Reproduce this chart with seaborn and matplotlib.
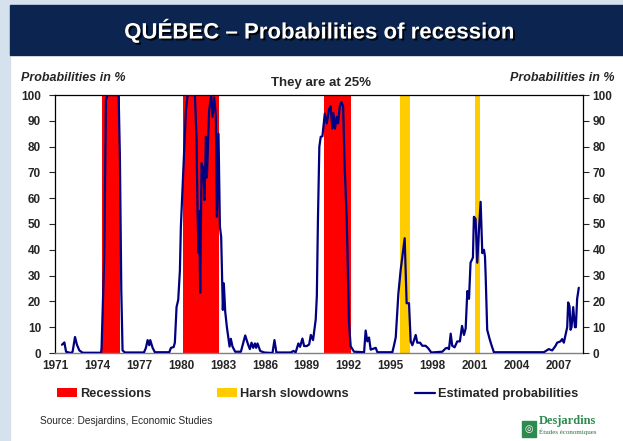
import matplotlib
matplotlib.use("Agg")
import matplotlib.pyplot as plt
import matplotlib.patheffects as pe
from matplotlib.patches import Rectangle, Patch
from matplotlib.lines import Line2D
import seaborn as sns

# estimated probabilities of recession (%)
years = [1971.50, 1971.67, 1971.79, 1972.14, 1972.26, 1972.43, 1972.57, 1972.74, 1972.98,
         1974.29, 1974.33, 1974.52, 1974.64, 1974.76, 1975.55, 1975.64, 1975.74, 1975.83, 1976.00,
         1977.36, 1977.50, 1977.62, 1977.74, 1977.81, 1977.98, 1978.14,
         1979.17, 1979.29, 1979.48, 1979.57, 1979.69, 1979.81, 1979.93, 1980.00, 1980.17, 1980.36,
         1980.48, 1981.00, 1981.12, 1981.19, 1981.26, 1981.31, 1981.38, 1981.48, 1981.60, 1981.69,
         1981.79, 1981.86, 1982.02, 1982.17, 1982.26, 1982.38, 1982.50, 1982.57, 1982.69, 1982.79,
         1982.88, 1983.00, 1983.07, 1983.17, 1983.29, 1983.40, 1983.48, 1983.57, 1983.69, 1983.88,
         1984.29, 1984.60, 1984.81, 1984.93, 1985.05, 1985.17, 1985.29, 1985.38, 1985.48, 1985.67,
         1985.95, 1986.55, 1986.69, 1986.83, 1987.86, 1988.05, 1988.21, 1988.40, 1988.52, 1988.69,
         1988.81, 1989.00, 1989.17, 1989.29, 1989.45, 1989.64, 1989.72, 1989.80, 1989.90, 1990.00,
         1990.12, 1990.29, 1990.43, 1990.60, 1990.71, 1990.83, 1990.90, 1991.02, 1991.14, 1991.24,
         1991.36, 1991.48, 1991.60, 1991.71, 1991.86, 1992.02, 1992.14, 1992.38,
         1993.10, 1993.21, 1993.33, 1993.45, 1993.57, 1993.93, 1994.05,
         1995.12, 1995.24, 1995.36, 1995.55, 1995.71, 1996.00, 1996.14, 1996.31, 1996.43, 1996.55,
         1996.79, 1996.90, 1997.10, 1997.26, 1997.50, 1997.69, 1997.90,
         1998.69, 1998.93, 1999.05, 1999.17, 1999.29, 1999.40, 1999.57, 1999.76, 1999.95,
         2000.10, 2000.24, 2000.36, 2000.48, 2000.60, 2000.71, 2000.88, 2000.95, 2001.07, 2001.19,
         2001.31, 2001.43, 2001.55, 2001.67, 2001.74, 2001.79, 2001.90, 2002.07, 2002.21, 2002.38,
         2005.95, 2006.30, 2006.55, 2006.79, 2006.90, 2007.14, 2007.26, 2007.38, 2007.50, 2007.62,
         2007.69, 2007.79, 2007.86, 2007.93, 2008.05, 2008.17, 2008.24, 2008.33, 2008.45]
probs = [3.2, 4.1, 0.5, 0.0, 0.5, 6.2, 3.2, 1.0, 0.1,
         0.1, 2.0, 37, 98, 100, 100, 76, 24, 1.0, 0.2,
         0.2, 2.0, 5.0, 3.0, 5.0, 2.0, 0.3,
         0.3, 2.0, 2.3, 4.0, 17.8, 20.6, 32, 49, 70, 94,
         100, 100, 83, 55, 38.8, 55, 23.3, 73.6, 71.5, 59.3,
         83.8, 68, 94, 100, 91.5, 99, 92, 52.8, 85, 49,
         45, 16.7, 27, 16, 10, 5.5, 2.5, 5.5, 2.5, 0.5,
         0.5, 6.8, 3.2, 1.5, 4.0, 2.0, 3.7, 2.0, 3.7, 0.8,
         0.2, 0.0, 5.0, 0.2, 0.2, 0.8, 0.3, 3.7, 2.4, 5.6,
         2.7, 2.7, 3.3, 7.0, 5.0, 13, 22, 52, 80, 83.8,
         84, 92.8, 89, 94.7, 95.6, 87, 93, 87, 91.5, 89,
         95.6, 97.3, 95.6, 72, 51.5, 11.6, 2.6, 0.5,
         0.3, 8.7, 4.5, 6.0, 1.3, 2.0, 0.3,
         0.3, 3.0, 6.0, 23, 32, 44.5, 19.3, 19.3, 4.5, 3.0,
         7.0, 4.0, 4.0, 2.8, 2.8, 1.8, 0.2,
         0.5, 1.8, 2.0, 1.5, 7.5, 2.8, 2.2, 4.5, 4.5,
         10.5, 7.0, 9.5, 24, 21, 35, 37, 52.8, 52, 35,
         47.6, 58.6, 38.7, 40, 37.5, 30, 9, 5.5, 3, 0.3,
         0.3, 1.5, 1.0, 2.8, 4.0, 4.5, 5.4, 4.0, 7.0, 10,
         19.6, 18, 9, 10, 17.8, 10, 10, 21, 25.3]

# shaded periods
recession_start = [1974.33, 1980.12, 1990.20]
recession_end = [1975.64, 1982.69, 1992.19]
slowdown_start = [1995.64, 2001.00]
slowdown_end = [1996.36, 2001.36]

year_ticks = list(range(1971, 2008, 3))
prob_ticks = list(range(0, 101, 10))

sns.set_style("white")
plt.rcParams['font.family'] = ['Liberation Sans', 'DejaVu Sans']

W, H = 623, 441
fig = plt.figure(figsize=(W / 100, H / 100), dpi=100)


def fx(px):
    return px / W


def fy(py):
    return 1 - py / H


# slide frame and title bar
frame_col = '#d5e1ed'
fig.patches.append(Rectangle((0, 0), fx(10), 1, transform=fig.transFigure, color=frame_col, zorder=0))
fig.patches.append(Rectangle((0, fy(5)), 1, 5 / H, transform=fig.transFigure, color=frame_col, zorder=0))
fig.patches.append(Rectangle((fx(10), fy(55)), 1, 50 / H, transform=fig.transFigure, color='#0b2550', zorder=0))
fig.text(fx(319), fy(31), "QUÉBEC – Probabilities of recession", color='white', fontsize=16,
         fontweight='bold', ha='center', va='center',
         path_effects=[pe.withSimplePatchShadow(offset=(1.4, -1.4), shadow_rgbFace='black', alpha=0.9)])

ax = fig.add_axes([fx(55), fy(353), (583 - 55) / W, (353 - 95) / H])

for s, e in zip(recession_start, recession_end):
    ax.axvspan(s, e, color='#ff0000', lw=0, zorder=1)
for s, e in zip(slowdown_start, slowdown_end):
    ax.axvspan(s, e, color='#ffcc00', lw=0, zorder=1)

sns.lineplot(x=years, y=probs, ax=ax, color='#000080', linewidth=1.6, zorder=3)

ax.set_xlim(1971.0, 2008.75)
ax.set_ylim(0, 100)
ax.set_xticks(year_ticks)
ax.set_yticks(prob_ticks)
ax.tick_params(axis='x', length=0, pad=5, labelsize=8.5)
ax.tick_params(axis='y', direction='out', length=4, width=0.8, pad=6, labelsize=8.5, left=True)
for lbl in ax.get_xticklabels() + ax.get_yticklabels():
    lbl.set_fontweight('bold')
for side in ['left', 'top']:
    ax.spines[side].set_color('black')
    ax.spines[side].set_linewidth(0.9)
ax.spines['right'].set_visible(False)
ax.spines['bottom'].set_color('#808080')
ax.spines['bottom'].set_linewidth(1.0)

ax2 = ax.twinx()
ax2.set_ylim(0, 100)
ax2.set_yticks(prob_ticks)
ax2.tick_params(axis='y', direction='out', length=4, width=0.8, pad=3, labelsize=8.5, right=True)
for lbl in ax2.get_yticklabels():
    lbl.set_fontweight('bold')
ax2.spines['right'].set_color('black')
ax2.spines['right'].set_linewidth(0.9)
for side in ['left', 'top', 'bottom']:
    ax2.spines[side].set_visible(False)

# axis captions
fig.text(fx(21), fy(78), "Probabilities in %", fontsize=9, fontweight='bold', style='italic',
         ha='left', va='center')
fig.text(fx(615), fy(78), "Probabilities in %", fontsize=9, fontweight='bold', style='italic',
         ha='right', va='center')
fig.text(fx(321), fy(83), "They are at 25%", fontsize=9.5, fontweight='bold', ha='center', va='center')

# legend
handles = [Patch(facecolor='#ff0000', edgecolor='none'),
           Patch(facecolor='#ffcc00', edgecolor='none'),
           Line2D([0], [0], color='#000080', lw=1.6)]
labels = ["Recessions", "Harsh slowdowns", "Estimated probabilities"]
fig.legend(handles, labels, loc='center left', bbox_to_anchor=(fx(57), fy(394)), ncol=3,
           frameon=False, borderpad=0, borderaxespad=0, handlelength=1.56, handleheight=0.62,
           handletextpad=0.23, columnspacing=5.2, prop={'size': 9.2, 'weight': 'bold'})

# footer
fig.text(fx(40), fy(421), "Source: Desjardins, Economic Studies", fontsize=7.3, ha='left', va='center')
fig.patches.append(Rectangle((fx(522), fy(437)), 14 / W, 16 / H, transform=fig.transFigure,
                             color='#2e8b50', zorder=2))
fig.text(fx(529), fy(429), "◎", color='white', fontsize=7, ha='center', va='center',
         family=['DejaVu Sans'])
fig.text(fx(539), fy(421), "Desjardins", color='#2e8b50', fontsize=9, fontweight='bold',
         family=['Liberation Serif', 'DejaVu Serif'], ha='left', va='center')
fig.text(fx(539), fy(432), "Études économiques", color='#2e6b40', fontsize=5,
         family=['Liberation Serif', 'DejaVu Serif'], ha='left', va='center')

fig.savefig("out.png", dpi=100)
